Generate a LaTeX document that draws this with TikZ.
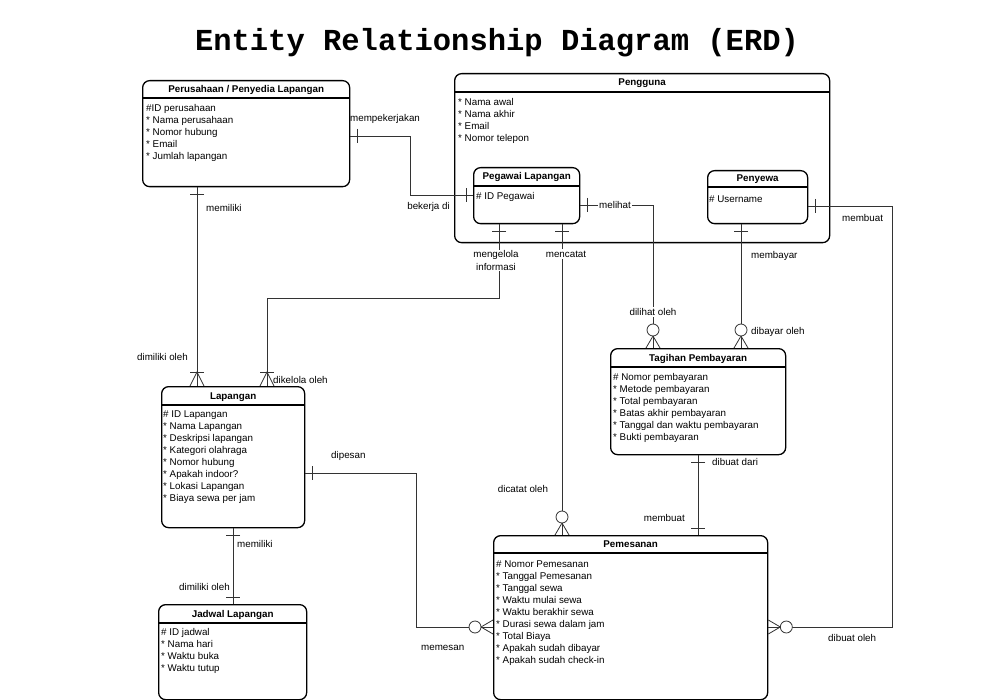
\documentclass[tikz,border=0pt]{standalone}
\usepackage{fontspec}
\setmainfont{Liberation Sans}
\newfontfamily\titlefont{Liberation Mono}
\usetikzlibrary{calc}
\tikzset{
  ent/.style={draw=black, line width=1.3pt, rounded corners=7pt, fill=white, inner sep=0pt, anchor=north west},
  sepline/.style={draw=black, line width=1.1pt},
  hdr/.style={font=\fontsize{9.8}{12}\selectfont\bfseries, text height=7pt, text depth=0pt, inner sep=0pt},
  attr/.style={font=\fontsize{9.8}{12}\selectfont, text height=7pt, text depth=0pt, inner sep=0pt, anchor=west},
  lbl/.style={font=\fontsize{9.8}{12}\selectfont, text height=7pt, text depth=0pt, inner sep=0pt},
  lblw/.style={lbl, fill=white, inner sep=1.5pt},
  conn/.style={draw=black!80, line width=0.8pt},
  mone/.pic={\draw[conn] (-7pt,7pt) -- (7pt,7pt);},
  onemany/.pic={\draw[conn] (-7pt,14pt) -- (7pt,14pt); \draw[conn] (-7pt,0pt) -- (0pt,14pt) -- (7pt,0pt);},
  zeromany/.pic={\draw[conn] (-7pt,0pt) -- (0pt,12pt) -- (7pt,0pt); \draw[conn,fill=white] (0pt,18pt) circle (6pt);},
}
\newcommand\Ent[7]{%
  \node[ent, minimum width=#4pt, minimum height=#5pt] (#1) at (#2,#3) {};
  \draw[sepline] ([yshift=-#6pt]#1.north west) -- ([yshift=-#6pt]#1.north east);
  \node[hdr] (#1-t) at ($(#1.north)+(0,#6/2)$) {#7};}
\newcommand\Attrs[4]{%
  \foreach \myt [count=\i from 0] in {#4} {\node[attr] (#1-a\i) at (#2,#3+12*\i) {\myt};}}
\begin{document}
\begin{tikzpicture}[x=1pt,y=-1pt]
\fill[white] (0,0) rectangle (1000,700);
\useasboundingbox (0,0) rectangle (1000,700);

\node[font={\fontsize{30.5}{36}\selectfont\titlefont\bfseries}, inner sep=0pt, anchor=base] (title) at (497,51) {Entity Relationship Diagram (ERD)};

% entities
\Ent{per}{142}{80}{207}{106}{18}{Perusahaan / Penyedia Lapangan}
\Attrs{per}{146}{108}{\#ID perusahaan, * Nama perusahaan, * Nomor hubung, * Email, * Jumlah lapangan}
\Ent{pen}{454}{73}{375}{169}{19}{Pengguna}
\Attrs{pen}{458}{102}{* Nama awal, * Nama akhir, * Email, * Nomor telepon}
\Ent{peg}{473}{167}{106}{56}{19}{Pegawai Lapangan}
\Attrs{peg}{476}{196}{\# ID Pegawai}
\Ent{sew}{707}{170}{100}{53}{17}{Penyewa}
\Attrs{sew}{709}{199}{\# Username}
\Ent{lap}{161}{386}{143}{141}{19}{Lapangan}
\Attrs{lap}{163}{414}{\# ID Lapangan, * Nama Lapangan, * Deskripsi lapangan, * Kategori olahraga, * Nomor hubung, * Apakah indoor?, * Lokasi Lapangan, * Biaya sewa per jam}
\Ent{tag}{610}{348}{175}{106}{19}{Tagihan Pembayaran}
\Attrs{tag}{613}{377}{\# Nomor pembayaran, * Metode pembayaran, * Total pembayaran, * Batas akhir pembayaran, * Tanggal dan waktu pembayaran, * Bukti pembayaran}
\Ent{pms}{493}{535}{274}{164}{18}{Pemesanan}
\Attrs{pms}{496}{564}{\# Nomor Pemesanan, * Tanggal Pemesanan, * Tanggal sewa, * Waktu mulai sewa, * Waktu berakhir sewa, * Durasi sewa dalam jam, * Total Biaya, * Apakah sudah dibayar, * Apakah sudah check-in}
\Ent{jad}{158}{604}{148}{95}{19}{Jadwal Lapangan}
\Attrs{jad}{161}{632}{\# ID jadwal, * Nama hari, * Waktu buka, * Waktu tutup}

% connectors
\draw[conn] (per.east |- 0,136) -| (410,195) -- (peg.west |- 0,195);
\draw[conn] (per.south -| 197,0) -- (lap.north -| 197,0);
\draw[conn] (peg.south -| 499,0) |- (267,298) -- (lap.north -| 267,0);
\draw[conn] (peg.south -| 562,0) -- (pms.north -| 562,0);
\draw[conn] (peg.east |- 0,205) -| (tag.north -| 653,0);
\draw[conn] (sew.south -| 741,0) -- (tag.north -| 741,0);
\draw[conn] (sew.east |- 0,206) -| (892,627) -- (pms.east |- 0,627);
\draw[conn] (tag.south -| 698,0) -- (pms.north -| 698,0);
\draw[conn] (lap.east |- 0,473) -| (416,627) -- (pms.west |- 0,627);
\draw[conn] (lap.south -| 233,0) -- (jad.north -| 233,0);

% cardinality marks
\pic[rotate=-90] at (per.east |- 0,136) {mone};
\pic[rotate=90] at (peg.west |- 0,195) {mone};
\pic[rotate=180] at (per.south -| 197,0) {mone};
\pic at (lap.north -| 197,0) {onemany};
\pic[rotate=180] at (peg.south -| 499,0) {mone};
\pic at (lap.north -| 267,0) {onemany};
\pic[rotate=180] at (peg.south -| 562,0) {mone};
\pic at (pms.north -| 562,0) {zeromany};
\pic[rotate=-90] at (peg.east |- 0,205) {mone};
\pic at (tag.north -| 653,0) {zeromany};
\pic[rotate=180] at (sew.south -| 741,0) {mone};
\pic at (tag.north -| 741,0) {zeromany};
\pic[rotate=-90] at (sew.east |- 0,206) {mone};
\pic[rotate=-90] at (pms.east |- 0,627) {zeromany};
\pic[rotate=180] at (tag.south -| 698,0) {mone};
\pic at (pms.north -| 698,0) {mone};
\pic[rotate=-90] at (lap.east |- 0,473) {mone};
\pic[rotate=90] at (pms.west |- 0,627) {zeromany};
\pic[rotate=180] at (lap.south -| 233,0) {mone};
\pic at (jad.north -| 233,0) {mone};

% labels
\node[lbl, anchor=west] (l1) at (350,118) {mempekerjakan};
\node[lbl, anchor=east] (l2) at (450,206.5) {bekerja di};
\node[lbl, anchor=west] (l3) at (206,208) {memiliki};
\node[lbl, anchor=east] (l4) at (188,357) {dimiliki oleh};
\node[font=\fontsize{9.8}{12.5}\selectfont, align=center, fill=white, inner sep=1pt] (l5) at (496,260.5) {mengelola\\informasi};
\node[lbl, anchor=west] (l6) at (273,379.5) {dikelola oleh};
\node[lblw] (l7) at (566,254) {mencatat};
\node[lbl] (l8) at (523,489) {dicatat oleh};
\node[lblw] (l9) at (615,205) {melihat};
\node[lblw] (l10) at (653,311.5) {dilihat oleh};
\node[lbl, anchor=west] (l11) at (751,255) {membayar};
\node[lbl, anchor=west] (l12) at (751,330.5) {dibayar oleh};
\node[lbl, anchor=west] (l13) at (842,218) {membuat};
\node[lbl, anchor=west] (l14) at (828,637.5) {dibuat oleh};
\node[lbl, anchor=west] (l15) at (712,461.5) {dibuat dari};
\node[lbl, anchor=east] (l16) at (685,518) {membuat};
\node[lbl, anchor=west] (l17) at (331,455) {dipesan};
\node[lbl, anchor=west] (l18) at (421,647) {memesan};
\node[lbl, anchor=west] (l19) at (237,544) {memiliki};
\node[lbl, anchor=east] (l20) at (230,586.7) {dimiliki oleh};
\end{tikzpicture}
\end{document}
